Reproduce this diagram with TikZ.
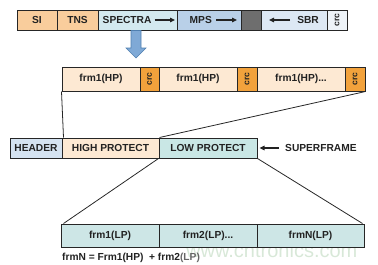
\documentclass[tikz,border=0pt]{standalone}
\usepackage{fontspec}
\setmainfont{Liberation Sans}
\usetikzlibrary{arrows.meta}
\definecolor{cOr}{HTML}{F9CD9C}
\definecolor{cSpec}{HTML}{D3E9EF}
\definecolor{cMps}{HTML}{B9D0E8}
\definecolor{cGray}{HTML}{6E6E6E}
\definecolor{cSbr}{HTML}{DDE8F4}
\definecolor{cCrcT}{HTML}{EEF3F8}
\definecolor{cPeach}{HTML}{FDE9D3}
\definecolor{cCrc}{HTML}{F2A23C}
\definecolor{cHead}{HTML}{D5E3F1}
\definecolor{cLow}{HTML}{C9E7E5}
\definecolor{cBot}{HTML}{CDE6E6}
\definecolor{cArrF}{HTML}{7FA9D6}
\definecolor{cArrD}{HTML}{4F7FB0}
\definecolor{cTxt}{HTML}{222222}
\definecolor{cWm}{HTML}{D8E8D8}
\tikzset{
  cell/.style={draw=black!85, line width=1pt, rectangle, inner sep=0pt, text=cTxt,
    font=\fontsize{10.2}{12}\selectfont\bfseries},
  crctxt/.style={rotate=90, text=cTxt, inner sep=0pt, font=\fontsize{8.6}{9}\selectfont\bfseries},
  lbl/.style={text=cTxt, inner sep=0pt, font=\fontsize{10.2}{12}\selectfont\bfseries},
  sarrow/.style={line width=1.1pt, draw=cTxt, -{Triangle[length=5pt,width=4.5pt]}},
  conn/.style={line width=0.8pt, draw=black!85}
}
\begin{document}
\begin{tikzpicture}[x=1pt,y=-1pt]
\useasboundingbox (0,0) rectangle (378,265);
% watermark
\node[text=cWm, inner sep=0pt, anchor=west, font=\fontsize{20}{22}\selectfont] (wm) at (186,250) {www.cntronics.com};
% top bar
\node[cell, fill=cOr, minimum width=40pt, minimum height=20pt] (si) at (37,20) {SI};
\node[cell, fill=cOr, minimum width=41pt, minimum height=20pt] (tns) at (77.5,20) {TNS};
\node[cell, fill=cSpec, minimum width=79pt, minimum height=20pt] (spec) at (137.5,20) {};
\node[cell, fill=cMps, minimum width=64pt, minimum height=20pt] (mps) at (209,20) {};
\node[cell, fill=cGray, minimum width=20pt, minimum height=20pt] (gry) at (251,20) {};
\node[cell, fill=cSbr, minimum width=66pt, minimum height=20pt] (sbr) at (294,20) {};
\node[cell, fill=cCrcT, minimum width=20pt, minimum height=20pt] (crct) at (337,20) {};
\node[crctxt] (crcttxt) at (crct) {crc};
\node[lbl, anchor=west] (tspec) at (102.5,20) {SPECTRA};
\coordinate (specA) at (175,20);
\draw[sarrow] ([xshift=3pt]tspec.east) -- (specA);
\node[lbl, anchor=west] (tmps) at (189.5,20) {MPS};
\coordinate (mpsA) at (237,20);
\draw[sarrow] ([xshift=4pt]tmps.east) -- (mpsA);
\node[lbl, anchor=east] (tsbr) at (319,20) {SBR};
\coordinate (sbrA) at (269,20);
\draw[sarrow] ([xshift=-7pt]tsbr.west) -- (sbrA);
% blue arrow
\draw[fill=cArrF, draw=cArrD, line width=0.6pt]
  (131,30.5) -- (141,30.5) -- (141,48) -- (146,48) -- (136,58) -- (126,48) -- (131,48) -- cycle;
% second bar
\node[cell, fill=cPeach, minimum width=78pt, minimum height=24pt] (fa) at (101,79) {frm1(HP)};
\node[cell, fill=cCrc, minimum width=19pt, minimum height=24pt] (ca) at (149.5,79) {};
\node[cell, fill=cPeach, minimum width=78pt, minimum height=24pt] (fb) at (198,79) {frm1(HP)};
\node[cell, fill=cCrc, minimum width=20pt, minimum height=24pt] (cb) at (247,79) {};
\node[cell, fill=cPeach, minimum width=88pt, minimum height=24pt] (fc) at (301,79) {frm1(HP)...};
\node[cell, fill=cCrc, minimum width=20pt, minimum height=24pt] (cc) at (355,79) {};
\node[crctxt] (catxt) at (ca) {crc};
\node[crctxt] (cbtxt) at (cb) {crc};
\node[crctxt] (cctxt) at (cc) {crc};
% superframe bar
\node[cell, fill=cHead, minimum width=52pt, minimum height=20pt] (hdr) at (36,148) {HEADER};
\node[cell, fill=cPeach, minimum width=97pt, minimum height=20pt] (high) at (110.5,148) {HIGH PROTECT};
\node[cell, fill=cLow, minimum width=98pt, minimum height=20pt] (low) at (208,148) {LOW PROTECT};
\node[lbl, anchor=west] (sf) at (285,148) {SUPERFRAME};
\draw[sarrow] ([xshift=-6pt]sf.west) -- ([xshift=2pt]low.east);
% bottom bar
\node[cell, fill=cBot, minimum width=98pt, minimum height=23pt] (b1) at (110,235.5) {frm1(LP)};
\node[cell, fill=cBot, minimum width=98pt, minimum height=23pt] (b2) at (208,235.5) {frm2(LP)...};
\node[cell, fill=cBot, minimum width=107pt, minimum height=23pt] (b3) at (310.5,235.5) {frmN(LP)};
% connectors
\draw[conn] (fa.south west) -- ([xshift=2pt]high.north west);
\draw[conn] (cc.south east) -- (high.north east);
\draw[conn] (low.south west) -- ([xshift=3pt]b1.north west);
\draw[conn] (low.south east) -- ([xshift=-2pt]b3.north east);
% formula
\node[lbl, anchor=west] (form) at (62,258) {frmN = Frm1(HP)\ \ + frm2\textcolor{black!60}{(LP)}};
\end{tikzpicture}
\end{document}
